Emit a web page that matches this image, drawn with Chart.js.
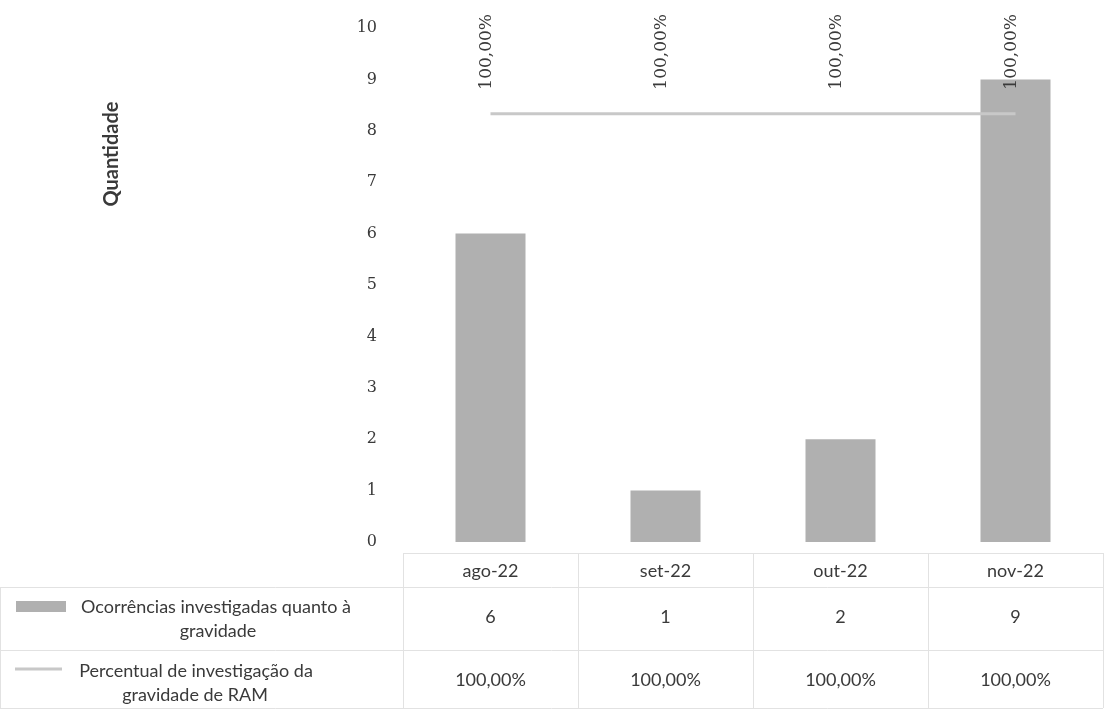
<!DOCTYPE html>
<html>
<head>
<meta charset="utf-8">
<script src="https://cdn.jsdelivr.net/npm/chart.js@4/dist/chart.umd.min.js"></script>
<style>
    html, body { margin: 0; padding: 0; background: #fff; }
    #wrap { width: 1104px; height: 711px; position: relative; }
</style>
</head>
<body>
<div id="wrap"><canvas id="chart"></canvas></div>
<script>
const months = ['ago-22', 'set-22', 'out-22', 'nov-22'];
const ocorrencias = [6, 1, 2, 9];
const percentual = [1, 1, 1, 1];

const seriesNames = [
    ['Ocorrências investigadas quanto à', 'gravidade'],
    ['Percentual de investigação da', 'gravidade de RAM'],
];

const barColor = '#b0b0b0';
const lineColor = '#c8c8c8';
const textColor = '#3a3a3a';
const gridColor = '#e2e2e2';

const fmtPct = v => (v * 100).toFixed(2).replace('.', ',') + '%';

// table rows under the plot (y positions)
const rows = { top: 553, head: 587, r1: 650, bottom: 708 };

const tablePlugin = {
    id: 'dataTable',
    afterDatasetsDraw(chart) {
        const ctx = chart.ctx;
        const x = chart.scales.x;
        const area = chart.chartArea;
        const colW = (area.right - area.left) / months.length;

        ctx.save();

        // rotated labels over the line
        const lineMeta = chart.getDatasetMeta(1);
        ctx.fillStyle = textColor;
        ctx.font = '17px "DejaVu Serif", serif';
        ctx.textAlign = 'left';
        ctx.textBaseline = 'middle';
        lineMeta.data.forEach((pt, i) => {
            ctx.save();
            ctx.translate(pt.x - 4, pt.y - 24);
            ctx.rotate(-Math.PI / 2);
            ctx.fillText(fmtPct(percentual[i]), 0, 0);
            ctx.restore();
        });

        // grid of the table
        ctx.strokeStyle = gridColor;
        ctx.lineWidth = 1;
        ctx.beginPath();
        ctx.moveTo(area.left, rows.top + 0.5);
        ctx.lineTo(area.right, rows.top + 0.5);
        [rows.head, rows.r1, rows.bottom].forEach(y => {
            ctx.moveTo(0, y + 0.5);
            ctx.lineTo(area.right, y + 0.5);
        });
        for (let i = 0; i <= months.length; i++) {
            const gx = Math.round(area.left + i * colW) + 0.5;
            ctx.moveTo(gx, rows.top);
            ctx.lineTo(gx, rows.bottom);
        }
        ctx.moveTo(0.5, rows.head);
        ctx.lineTo(0.5, rows.bottom);
        ctx.stroke();

        // cell texts
        ctx.font = '18px Lato, "Open Sans", sans-serif';
        ctx.textAlign = 'center';
        ctx.fillStyle = textColor;
        months.forEach((m, i) => {
            const cx = x.getPixelForValue(i);
            ctx.fillText(m, cx, 571);
            ctx.fillText(String(ocorrencias[i]), cx, 617);
            ctx.fillText(fmtPct(percentual[i]), cx, 680);
        });

        // series names with swatches
        ctx.fillText(seriesNames[0][0], 216, 607);
        ctx.fillText(seriesNames[0][1], 218, 631);
        ctx.fillText(seriesNames[1][0], 196, 671);
        ctx.fillText(seriesNames[1][1], 195, 695);

        ctx.fillStyle = barColor;
        ctx.fillRect(16, 601, 50, 11);
        ctx.strokeStyle = lineColor;
        ctx.lineWidth = 3;
        ctx.beginPath();
        ctx.moveTo(15, 669);
        ctx.lineTo(62, 669);
        ctx.stroke();

        // axis title
        ctx.save();
        ctx.translate(112, 154);
        ctx.rotate(-Math.PI / 2);
        ctx.font = 'bold 20px Lato, "Open Sans", sans-serif';
        ctx.fillStyle = textColor;
        ctx.fillText('Quantidade', 0, 0);
        ctx.restore();

        ctx.restore();
    },
};

new Chart(document.getElementById('chart'), {
    type: 'bar',
    data: {
        labels: months,
        datasets: [
            {
                type: 'bar',
                label: seriesNames[0].join(' '),
                data: ocorrencias,
                backgroundColor: barColor,
                borderWidth: 0,
                categoryPercentage: 1,
                barPercentage: 0.4,
                yAxisID: 'y',
                order: 2,
            },
            {
                type: 'line',
                label: seriesNames[1].join(' '),
                data: percentual,
                borderColor: lineColor,
                borderWidth: 3,
                pointRadius: 0,
                tension: 0,
                yAxisID: 'y1',
                order: 1,
            },
        ],
    },
    options: {
        responsive: true,
        maintainAspectRatio: false,
        animation: false,
        layout: { padding: { top: 28, right: 1, bottom: 711 - 542, left: 0 } },
        plugins: {
            legend: { display: false },
            tooltip: { enabled: false },
        },
        scales: {
            x: {
                display: false,
                offset: true,
                grid: { display: false },
            },
            y: {
                min: 0,
                max: 10,
                // fixed width, and don't let the tick padding push the plot down
                afterFit: s => {
                    s.width = 403;
                    s.paddingTop = 10;
                    s.paddingBottom = 10;
                },
                border: { display: false },
                grid: { display: false, drawTicks: false },
                ticks: {
                    stepSize: 1,
                    padding: 26,
                    color: textColor,
                    font: { family: '"DejaVu Serif", serif', size: 16 },
                },
            },
            y1: {
                display: false,
                min: 0,
                max: 1.2,
            },
        },
    },
    plugins: [tablePlugin],
});
</script>
</body>
</html>
